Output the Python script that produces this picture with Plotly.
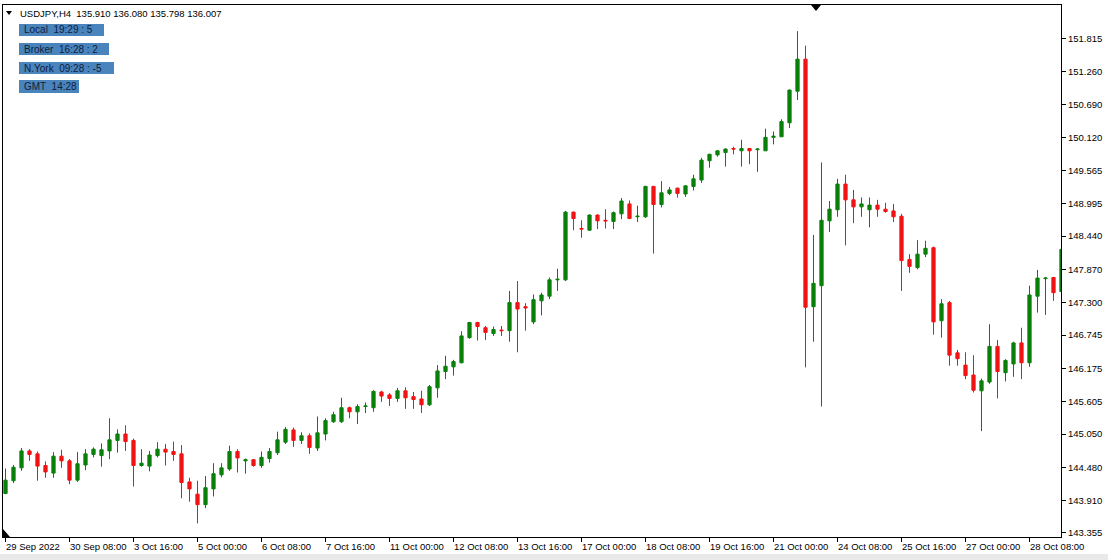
import plotly.graph_objects as go

# USDJPY H4 candles, 29 Sep 2022 -> 28 Oct 2022
open_ = [
    144.03, 144.25, 144.47, 144.76, 144.71, 144.51, 144.38, 144.67, 144.59, 144.26,
    144.52, 144.70, 144.68, 144.76, 144.94, 145.05, 144.94, 144.51, 144.50, 144.68,
    144.79, 144.75, 144.71, 144.23, 144.02, 143.84, 144.11, 144.35, 144.45, 144.75,
    144.59, 144.61, 144.51, 144.63, 144.73, 144.91, 145.12, 144.94, 145.02, 144.81,
    145.05, 145.26, 145.26, 145.50, 145.43, 145.52, 145.50, 145.77, 145.72, 145.66,
    145.79, 145.69, 145.65, 145.55, 145.84, 146.12, 146.20, 146.27, 146.70, 146.96,
    146.87, 146.77, 146.83, 146.82, 147.30, 147.23, 146.97, 147.33, 147.41, 147.69,
    147.69, 148.85, 148.57, 148.54, 148.80, 148.71, 148.69, 148.82, 148.99, 148.77,
    148.77, 149.29, 148.98, 149.17, 149.26, 149.16, 149.29, 149.40, 149.73, 149.83,
    149.87, 149.94, 149.90, 149.94, 149.92, 149.90, 150.13, 150.14, 150.38, 150.92,
    151.47, 147.23, 147.59, 148.70, 148.89, 149.33, 149.06, 148.94, 148.89, 148.97,
    148.90, 148.87, 148.78, 148.04, 147.90, 148.13, 148.24, 146.99, 147.30, 146.44,
    146.23, 146.06, 145.79, 145.94, 146.55, 146.10, 146.25, 146.61, 146.27, 147.41,
    147.71, 147.73, 147.49,
]
high = [
    144.46, 144.52, 144.81, 144.79, 144.75, 144.58, 144.74, 144.78, 144.62, 144.74,
    144.79, 144.82, 144.89, 145.32, 145.13, 145.20, 144.97, 144.79, 144.76, 144.91,
    144.88, 144.92, 144.86, 144.30, 144.25, 144.33, 144.55, 144.55, 144.85, 144.79,
    144.63, 144.62, 144.75, 144.81, 145.09, 145.17, 145.16, 145.08, 145.06, 145.35,
    145.32, 145.43, 145.67, 145.52, 145.56, 145.59, 145.80, 145.79, 145.75, 145.84,
    145.85, 145.77, 145.79, 145.89, 146.23, 146.39, 146.32, 146.81, 146.97, 146.97,
    146.90, 146.89, 146.90, 147.50, 147.67, 147.29, 147.44, 147.47, 147.73, 147.88,
    148.87, 148.86, 148.71, 148.81, 148.81, 148.90, 148.86, 149.09, 149.05, 148.96,
    149.30, 149.30, 149.38, 149.28, 149.27, 149.31, 149.49, 149.78, 149.85, 149.91,
    149.94, 149.97, 150.09, 149.95, 149.94, 150.28, 150.23, 150.44, 150.95, 151.95,
    151.70, 148.46, 149.70, 149.04, 149.42, 149.49, 149.23, 149.10, 149.10, 149.06,
    149.01, 148.99, 148.82, 148.13, 148.37, 148.36, 148.26, 147.36, 147.33, 146.49,
    146.45, 146.40, 146.00, 146.93, 146.66, 146.33, 146.63, 146.87, 147.59, 147.86,
    147.74, 147.74, 148.29,
]
low = [
    144.02, 144.21, 144.42, 144.59, 144.25, 144.30, 144.30, 144.47, 144.19, 144.23,
    144.43, 144.65, 144.49, 144.62, 144.73, 144.76, 144.15, 144.49, 144.41, 144.65,
    144.51, 144.59, 143.95, 143.89, 143.52, 143.78, 143.98, 144.31, 144.42, 144.39,
    144.37, 144.49, 144.47, 144.56, 144.69, 144.88, 144.83, 144.88, 144.71, 144.76,
    144.94, 145.24, 145.24, 145.32, 145.22, 145.41, 145.43, 145.60, 145.53, 145.60,
    145.48, 145.48, 145.41, 145.53, 145.67, 145.99, 146.05, 146.26, 146.68, 146.65,
    146.66, 146.73, 146.73, 146.63, 146.45, 146.82, 146.93, 147.08, 147.36, 147.50,
    147.67, 148.54, 148.41, 148.53, 148.56, 148.57, 148.56, 148.73, 148.73, 148.68,
    148.75, 148.14, 148.93, 149.14, 149.10, 149.11, 149.22, 149.35, 149.61, 149.80,
    149.63, 149.84, 149.63, 149.67, 149.54, 149.90, 150.01, 150.14, 150.29, 150.77,
    146.19, 146.63, 145.52, 148.51, 148.77, 148.28, 148.66, 148.77, 148.59, 148.77,
    148.84, 148.68, 147.50, 147.81, 147.87, 148.08, 146.75, 146.70, 146.22, 146.22,
    145.99, 145.76, 145.10, 145.91, 145.66, 145.95, 146.03, 145.99, 146.20, 147.13,
    147.09, 147.33, 147.48,
]
close = [
    144.26, 144.48, 144.76, 144.70, 144.50, 144.40, 144.67, 144.59, 144.26, 144.54,
    144.71, 144.79, 144.78, 144.95, 145.05, 144.92, 144.51, 144.55, 144.69, 144.79,
    144.74, 144.70, 144.22, 144.11, 143.84, 144.13, 144.37, 144.47, 144.75, 144.64,
    144.61, 144.51, 144.65, 144.75, 144.95, 145.13, 144.94, 145.02, 144.82, 145.07,
    145.28, 145.38, 145.50, 145.43, 145.52, 145.53, 145.78, 145.70, 145.66, 145.79,
    145.67, 145.64, 145.55, 145.86, 146.13, 146.21, 146.29, 146.73, 146.96, 146.89,
    146.79, 146.84, 146.82, 147.30, 147.19, 147.21, 147.35, 147.43, 147.69, 147.70,
    148.85, 148.74, 148.56, 148.80, 148.70, 148.70, 148.84, 149.04, 148.74, 148.78,
    149.29, 148.98, 149.18, 149.23, 149.17, 149.30, 149.42, 149.74, 149.84, 149.90,
    149.93, 149.93, 149.94, 149.90, 149.93, 150.13, 150.15, 150.40, 150.94, 151.47,
    147.22, 147.63, 148.71, 148.90, 149.33, 149.06, 148.94, 148.99, 148.97, 148.90,
    148.86, 148.77, 148.02, 147.92, 148.13, 148.23, 146.97, 147.28, 146.40, 146.34,
    146.05, 145.80, 145.96, 146.55, 146.12, 146.31, 146.61, 146.27, 147.43, 147.72,
    147.72, 147.47, 148.21,
]

time_labels = [
    "29 Sep 2022", "30 Sep 08:00", "3 Oct 16:00", "5 Oct 00:00", "6 Oct 08:00",
    "7 Oct 16:00", "11 Oct 00:00", "12 Oct 08:00", "13 Oct 16:00", "17 Oct 00:00",
    "18 Oct 08:00", "19 Oct 16:00", "21 Oct 00:00", "24 Oct 08:00", "25 Oct 16:00",
    "27 Oct 00:00", "28 Oct 08:00",
]
price_ticks = [
    151.815, 151.260, 150.690, 150.120, 149.565, 148.995, 148.440, 147.870,
    147.300, 146.745, 146.175, 145.605, 145.050, 144.480, 143.910, 143.355,
]

header = "USDJPY,H4  135.910 136.080 135.798 136.007"
clocks = ["Local  19:29 : 5", "Broker  16:28 : 2", "N.York  09:28 : -5", "GMT  14:28"]

GREEN = "#0a7f0a"
RED = "#f01414"
BOX_BLUE = "#4a84bd"
FONT = "Tahoma, Liberation Sans, Arial, sans-serif"

W, H = 1108, 560
ML, MR, MT, MB = 3, 47, 5, 23     # frame spans x 3..1061, y 5..537


def px(x):
    return (x - ML) / (W - ML - MR)


def py(y):
    return (H - MB - y) / (H - MT - MB)


bars = list(range(len(open_)))

fig = go.Figure(go.Candlestick(
    x=bars, open=open_, high=high, low=low, close=close,
    increasing=dict(line=dict(color=GREEN, width=1), fillcolor=GREEN),
    decreasing=dict(line=dict(color=RED, width=1), fillcolor=RED),
    whiskerwidth=0, hoverinfo="skip",
))

shapes = []
annotations = []

# left-aligned MT4 style time labels
for i, lab in enumerate(time_labels):
    annotations.append(dict(
        x=i * 8, y=py(546), xref="x", yref="paper", text=lab, showarrow=False,
        xanchor="left", yanchor="middle", xshift=-2,
        font=dict(family=FONT, size=9.5, color="black"),
    ))

# header line + small menu triangle
annotations.append(dict(
    x=px(18), y=py(13), xref="paper", yref="paper", text=header, showarrow=False,
    xanchor="left", yanchor="middle", font=dict(family=FONT, size=9.5, color="black"),
))
shapes.append(dict(type="path", xref="paper", yref="paper", line_width=0, fillcolor="black",
                   path=f"M {px(6)} {py(11)} L {px(12)} {py(11)} L {px(9)} {py(15)} Z"))

# clock boxes
box_rows = [(24, 36, 104), (43, 55, 109), (62, 74, 114), (80, 93, 79)]
for lab, (y0, y1, x1) in zip(clocks, box_rows):
    shapes.append(dict(type="rect", xref="paper", yref="paper", line_width=0,
                       fillcolor=BOX_BLUE, x0=px(19), x1=px(x1), y0=py(y1), y1=py(y0)))
    annotations.append(dict(
        x=px(22), y=py((y0 + y1) / 2), xref="paper", yref="paper", text=lab,
        showarrow=False, xanchor="left", yanchor="middle",
        font=dict(family=FONT, size=10, color="#10203a"),
    ))

# shift marker at top, corner marker at bottom-left
shapes.append(dict(type="path", xref="paper", yref="paper", line_width=0, fillcolor="black",
                   path=f"M {px(811)} {py(5)} L {px(821)} {py(5)} L {px(816)} {py(11)} Z"))
shapes.append(dict(type="path", xref="paper", yref="paper", line_width=0, fillcolor="black",
                   path=f"M {px(3)} {py(529)} L {px(3)} {py(537)} L {px(10)} {py(537)} Z"))

# window edge below the time scale
shapes.append(dict(type="rect", xref="paper", yref="paper", line_width=0, fillcolor="#e9e9e9",
                   x0=px(0), x1=px(W), y0=py(H), y1=py(554), layer="below"))

fig.update_layout(
    width=W, height=H,
    margin=dict(l=ML, r=MR, t=MT, b=MB, pad=0),
    paper_bgcolor="white", plot_bgcolor="white",
    showlegend=False, boxgap=0.42,
    font=dict(family=FONT, size=9.5, color="black"),
    xaxis=dict(
        range=[-0.3125, 131.9375], rangeslider=dict(visible=False),
        tickmode="array", tickvals=[i * 8 for i in range(len(time_labels))],
        showticklabels=False, ticks="outside", ticklen=4, tickcolor="black",
        showgrid=False, zeroline=False,
        showline=True, linecolor="black", linewidth=1, mirror=True,
    ),
    yaxis=dict(
        range=[143.286, 152.397], side="right",
        tickmode="array", tickvals=price_ticks,
        ticktext=[f"{v:.3f}" for v in price_ticks],
        ticks="outside", ticklen=4, tickcolor="black",
        showgrid=False, zeroline=False, automargin=False,
        showline=True, linecolor="black", linewidth=1, mirror=True,
    ),
    shapes=shapes, annotations=annotations,
)

fig.write_html(
    "out.html",
    config={"displayModeBar": False, "staticPlot": True},
    post_script="document.body.style.margin='0';document.body.style.overflow='hidden';",
)
